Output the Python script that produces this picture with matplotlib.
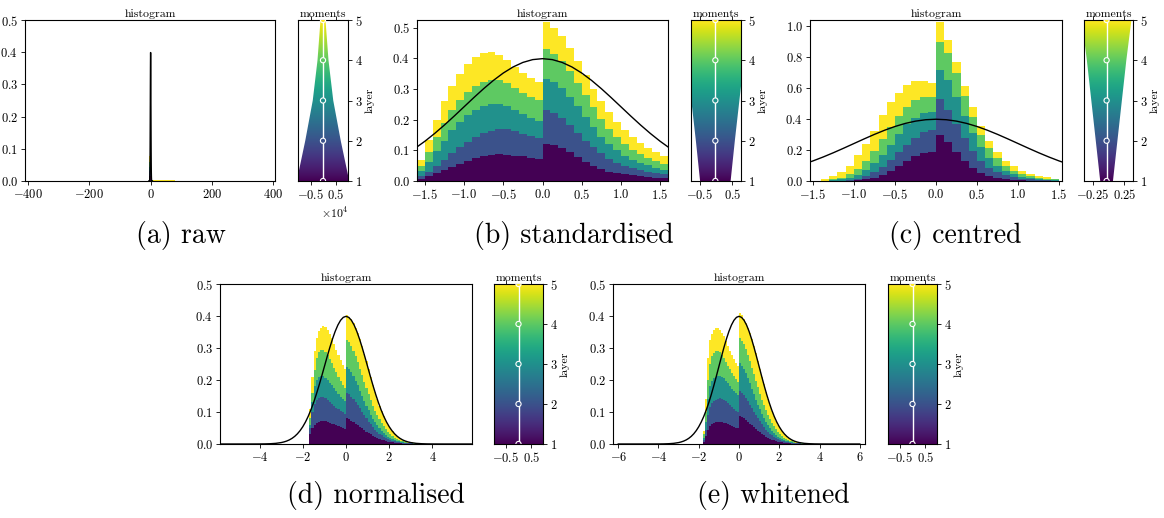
import numpy as np
import matplotlib
matplotlib.use("Agg")
import matplotlib.pyplot as plt
from matplotlib.patches import Polygon
from matplotlib.ticker import ScalarFormatter

plt.rcParams['font.family'] = 'serif'
plt.rcParams['font.serif'] = ['cmr10', 'DejaVu Serif']
plt.rcParams['mathtext.fontset'] = 'cm'
plt.rcParams['axes.formatter.use_mathtext'] = True
plt.rcParams['axes.unicode_minus'] = True

# ---------------- data ----------------
layers = [1, 2, 3, 4, 5]

# reference standard-normal curve (values read / tabulated)
curve_x = [-6.0, -5.0, -4.5, -4.0, -3.75, -3.5, -3.25, -3.0, -2.875, -2.75, -2.625, -2.5, -2.375, -2.25,
           -2.125, -2.0, -1.875, -1.75, -1.625, -1.5, -1.375, -1.25, -1.125, -1.0, -0.875, -0.75,
           -0.625, -0.5, -0.375, -0.25, -0.125, 0.0, 0.125, 0.25, 0.375, 0.5, 0.625, 0.75, 0.875,
           1.0, 1.125, 1.25, 1.375, 1.5, 1.625, 1.75, 1.875, 2.0, 2.125, 2.25, 2.375, 2.5, 2.625,
           2.75, 2.875, 3.0, 3.25, 3.5, 3.75, 4.0, 4.5, 5.0, 6.0]
curve_y = [0.0, 0.0000015, 0.000016, 0.00013, 0.00035, 0.00087, 0.00203, 0.00443, 0.0064, 0.00909,
           0.01272, 0.01753, 0.02377, 0.03174, 0.04173, 0.05399, 0.06879, 0.08628, 0.10654, 0.12952,
           0.15501, 0.18265, 0.21188, 0.24197, 0.27205, 0.30114, 0.32816, 0.35207, 0.37186, 0.38667,
           0.39584, 0.39894, 0.39584, 0.38667, 0.37186, 0.35207, 0.32816, 0.30114, 0.27205, 0.24197,
           0.21188, 0.18265, 0.15501, 0.12952, 0.10654, 0.08628, 0.06879, 0.05399, 0.04173, 0.03174,
           0.02377, 0.01753, 0.01272, 0.00909, 0.0064, 0.00443, 0.00203, 0.00087, 0.00035, 0.00013,
           0.000016, 0.0000015, 0.0]

# (a) raw -- cumulative top of each layer per bin
a_edges = [-6, 0, 8, 80, 250, 400]
a_layer1 = [0.015, 0.0005, 0.0, 0.0, 0.0]
a_layer2 = [0.03, 0.001, 0.0003, 0.0002, 0.0001]
a_layer3 = [0.045, 0.0015, 0.0006, 0.0004, 0.0003]
a_layer4 = [0.06, 0.002, 0.001, 0.0008, 0.0005]
a_layer5 = [0.078, 0.004, 0.004, 0.001, 0.0006]
a_mean = [0, 0, 0, 0, 0]
a_std = [10500, 7100, 4100, 2200, 1000]

# (b) standardised
b_edges = np.round(np.arange(-1.6, 1.6001, 0.1), 2)
b_layer1 = [0.007, 0.015, 0.025, 0.035, 0.045, 0.055, 0.065, 0.075, 0.082, 0.086, 0.087, 0.086, 0.083, 0.080, 0.076, 0.073,
            0.122, 0.117, 0.107, 0.093, 0.078, 0.062, 0.049, 0.038, 0.030, 0.025, 0.022, 0.018, 0.015, 0.013, 0.011, 0.009]
b_layer2 = [0.015, 0.03, 0.05, 0.07, 0.09, 0.11, 0.128, 0.143, 0.155, 0.164, 0.17, 0.168, 0.162, 0.154, 0.146, 0.14,
            0.23, 0.222, 0.205, 0.183, 0.158, 0.132, 0.11, 0.09, 0.073, 0.06, 0.05, 0.042, 0.035, 0.03, 0.026, 0.022]
b_layer3 = [0.032, 0.062, 0.098, 0.132, 0.165, 0.193, 0.215, 0.233, 0.245, 0.252, 0.252, 0.245, 0.233, 0.218, 0.205, 0.195,
            0.333, 0.323, 0.303, 0.275, 0.243, 0.208, 0.175, 0.145, 0.12, 0.1, 0.083, 0.069, 0.059, 0.051, 0.044, 0.037]
b_layer4 = [0.05, 0.095, 0.145, 0.19, 0.232, 0.265, 0.29, 0.31, 0.323, 0.33, 0.328, 0.318, 0.303, 0.288, 0.275, 0.265,
            0.43, 0.415, 0.39, 0.358, 0.32, 0.28, 0.24, 0.202, 0.17, 0.142, 0.12, 0.1, 0.087, 0.075, 0.065, 0.056]
b_layer5 = [0.07, 0.135, 0.2, 0.26, 0.31, 0.35, 0.38, 0.405, 0.418, 0.42, 0.41, 0.395, 0.372, 0.353, 0.337, 0.322,
            0.52, 0.5, 0.472, 0.433, 0.39, 0.345, 0.3, 0.26, 0.225, 0.193, 0.166, 0.143, 0.124, 0.108, 0.093, 0.082]
b_mean = [-0.02, -0.02, -0.02, -0.02, -0.02]
b_std = [0.47, 0.6, 0.74, 0.88, 1.02]

# (c) centred
c_edges = np.round(np.arange(-1.5, 1.5001, 0.1), 2)
c_layer1 = [0, 0, 0, 0.001, 0.002, 0.004, 0.01, 0.022, 0.04, 0.065, 0.095, 0.13, 0.163, 0.18, 0.185,
            0.295, 0.25, 0.19, 0.13, 0.082, 0.052, 0.032, 0.02, 0.011, 0.006, 0.004, 0.002, 0.001, 0.001, 0.0005]
c_layer2 = [0, 0, 0.001, 0.003, 0.007, 0.016, 0.032, 0.056, 0.09, 0.135, 0.185, 0.235, 0.28, 0.315, 0.33,
            0.53, 0.46, 0.37, 0.275, 0.195, 0.13, 0.087, 0.057, 0.036, 0.023, 0.015, 0.01, 0.006, 0.004, 0.002]
c_layer3 = [0, 0.001, 0.005, 0.012, 0.02, 0.037, 0.07, 0.115, 0.17, 0.235, 0.305, 0.365, 0.41, 0.44, 0.445,
            0.72, 0.65, 0.54, 0.42, 0.31, 0.22, 0.15, 0.1, 0.065, 0.042, 0.029, 0.02, 0.013, 0.009, 0.006]
c_layer4 = [0, 0.003, 0.01, 0.022, 0.045, 0.08, 0.13, 0.195, 0.27, 0.35, 0.42, 0.48, 0.525, 0.545, 0.545,
            0.9, 0.825, 0.695, 0.55, 0.415, 0.3, 0.21, 0.147, 0.1, 0.067, 0.046, 0.032, 0.022, 0.015, 0.01]
c_layer5 = [0.003, 0.012, 0.03, 0.06, 0.1, 0.165, 0.24, 0.325, 0.425, 0.51, 0.57, 0.62, 0.645, 0.648, 0.63,
            1.03, 0.91, 0.77, 0.615, 0.475, 0.355, 0.26, 0.187, 0.13, 0.094, 0.067, 0.048, 0.034, 0.024, 0.016]
c_mean = [-0.03, -0.03, -0.03, -0.03, -0.03]
c_std = [0.1, 0.17, 0.24, 0.31, 0.39]

# (d) normalised
d_edges = np.concatenate([np.round(np.arange(-1.7, 2.8001, 0.1), 2), [3.1, 3.4, 3.7, 4.0]])
d_layer1 = [0.03, 0.05, 0.06, 0.066, 0.07, 0.072, 0.072, 0.071, 0.069, 0.067, 0.064, 0.061, 0.058, 0.055, 0.052, 0.05, 0.048,
            0.08, 0.077, 0.073, 0.069, 0.064, 0.059, 0.054, 0.049, 0.044, 0.039, 0.034, 0.03, 0.026, 0.022, 0.019, 0.016,
            0.013, 0.011, 0.009, 0.007, 0.006, 0.005, 0.004, 0.003, 0.0025, 0.002, 0.0015, 0.001,
            0.0008, 0.0004, 0.0002, 0.0001]
d_layer2 = [0.05, 0.1, 0.125, 0.138, 0.145, 0.148, 0.147, 0.143, 0.138, 0.132, 0.126, 0.12, 0.114, 0.108, 0.103, 0.099, 0.095,
            0.16, 0.155, 0.148, 0.14, 0.131, 0.121, 0.111, 0.1, 0.09, 0.08, 0.07, 0.061, 0.053, 0.045, 0.038, 0.032,
            0.027, 0.022, 0.018, 0.015, 0.012, 0.01, 0.008, 0.006, 0.005, 0.004, 0.003, 0.0025,
            0.0018, 0.001, 0.0005, 0.0002]
d_layer3 = [0.06, 0.13, 0.18, 0.2, 0.21, 0.213, 0.212, 0.207, 0.2, 0.192, 0.183, 0.174, 0.165, 0.156, 0.148, 0.141, 0.135,
            0.24, 0.234, 0.224, 0.212, 0.198, 0.183, 0.167, 0.151, 0.135, 0.12, 0.105, 0.092, 0.079, 0.068, 0.058, 0.049,
            0.041, 0.034, 0.028, 0.023, 0.019, 0.015, 0.012, 0.01, 0.008, 0.006, 0.005, 0.004,
            0.0028, 0.0015, 0.0008, 0.0003]
d_layer4 = [0.08, 0.16, 0.23, 0.27, 0.287, 0.295, 0.295, 0.288, 0.278, 0.266, 0.252, 0.238, 0.224, 0.21, 0.197, 0.185, 0.175,
            0.325, 0.318, 0.306, 0.291, 0.274, 0.255, 0.235, 0.215, 0.195, 0.175, 0.155, 0.137, 0.12, 0.104, 0.09, 0.077,
            0.065, 0.055, 0.046, 0.038, 0.031, 0.025, 0.02, 0.016, 0.013, 0.01, 0.008, 0.006,
            0.004, 0.0022, 0.0011, 0.0005]
d_layer5 = [0.11, 0.21, 0.29, 0.33, 0.352, 0.362, 0.368, 0.366, 0.356, 0.345, 0.33, 0.312, 0.295, 0.278, 0.262, 0.248, 0.235,
            0.402, 0.398, 0.39, 0.378, 0.363, 0.346, 0.327, 0.305, 0.282, 0.258, 0.233, 0.209, 0.185, 0.162, 0.14, 0.12,
            0.102, 0.086, 0.072, 0.06, 0.049, 0.04, 0.032, 0.025, 0.02, 0.016, 0.012, 0.009,
            0.006, 0.003, 0.0015, 0.0007]
d_mean = [0, 0, 0, 0, 0]
d_std = [1.0, 1.0, 1.0, 1.0, 1.0]

# (e) whitened
e_edges = np.concatenate([np.round(np.arange(-1.8, 2.8001, 0.1), 2), [3.1, 3.4, 3.7, 4.0]])
e_layer1 = [0.006, 0.025, 0.045, 0.055, 0.062, 0.066, 0.068, 0.07, 0.07, 0.069, 0.067, 0.065, 0.062, 0.059, 0.056, 0.053, 0.051, 0.049,
            0.088, 0.085, 0.08, 0.075, 0.07, 0.064, 0.058, 0.052, 0.047, 0.041, 0.036, 0.031, 0.027, 0.023, 0.019, 0.016,
            0.013, 0.011, 0.009, 0.007, 0.006, 0.005, 0.004, 0.003, 0.0025, 0.002, 0.0015, 0.001,
            0.0008, 0.0004, 0.0002, 0.0001]
e_layer2 = [0.012, 0.045, 0.09, 0.115, 0.128, 0.135, 0.139, 0.142, 0.143, 0.141, 0.138, 0.133, 0.127, 0.121, 0.115, 0.109, 0.104, 0.1,
            0.166, 0.16, 0.152, 0.143, 0.133, 0.123, 0.112, 0.101, 0.091, 0.081, 0.071, 0.062, 0.053, 0.045, 0.038, 0.032,
            0.027, 0.022, 0.018, 0.015, 0.012, 0.01, 0.008, 0.006, 0.005, 0.004, 0.003, 0.0025,
            0.0018, 0.001, 0.0005, 0.0002]
e_layer3 = [0.02, 0.07, 0.14, 0.18, 0.197, 0.205, 0.21, 0.213, 0.213, 0.21, 0.205, 0.198, 0.19, 0.181, 0.172, 0.165, 0.158, 0.152,
            0.252, 0.245, 0.234, 0.221, 0.206, 0.19, 0.173, 0.156, 0.139, 0.123, 0.108, 0.094, 0.081, 0.069, 0.059, 0.05,
            0.042, 0.035, 0.029, 0.023, 0.019, 0.015, 0.012, 0.01, 0.008, 0.006, 0.005, 0.004,
            0.0028, 0.0015, 0.0008, 0.0003]
e_layer4 = [0.03, 0.1, 0.2, 0.25, 0.275, 0.285, 0.29, 0.29, 0.286, 0.278, 0.268, 0.257, 0.245, 0.233, 0.222, 0.212, 0.203, 0.195,
            0.33, 0.323, 0.311, 0.296, 0.278, 0.259, 0.239, 0.218, 0.197, 0.177, 0.157, 0.138, 0.121, 0.105, 0.09, 0.077,
            0.066, 0.055, 0.046, 0.038, 0.031, 0.025, 0.02, 0.016, 0.013, 0.01, 0.008, 0.006,
            0.004, 0.0022, 0.0011, 0.0005]
e_layer5 = [0.04, 0.14, 0.27, 0.325, 0.345, 0.356, 0.361, 0.362, 0.357, 0.348, 0.337, 0.323, 0.307, 0.292, 0.278, 0.265, 0.254, 0.245,
            0.41, 0.402, 0.392, 0.379, 0.364, 0.347, 0.328, 0.306, 0.283, 0.259, 0.234, 0.21, 0.186, 0.163, 0.141, 0.121,
            0.103, 0.087, 0.073, 0.06, 0.049, 0.04, 0.032, 0.025, 0.02, 0.016, 0.012, 0.009,
            0.006, 0.003, 0.0015, 0.0007]
e_mean = [0, 0, 0, 0, 0]
e_std = [1.0, 1.0, 1.0, 1.0, 1.0]

captions = ['(a) raw', '(b) standardised', '(c) centred', '(d) normalised', '(e) whitened']

# ---------------- drawing ----------------
W, H = 1164, 518
fig = plt.figure(figsize=(W / 100, H / 100), dpi=100)
cmap = plt.get_cmap('viridis')
layer_colors = cmap(np.linspace(0, 1, 5))
TICK_FS = 9
TITLE_FS = 8.5


def px_axes(x0, x1, y0, y1):
    return fig.add_axes([x0 / W, 1 - y1 / H, (x1 - x0) / W, (y1 - y0) / H])


def style(ax):
    ax.tick_params(labelsize=TICK_FS, length=3, width=0.6, pad=2)
    for s in ax.spines.values():
        s.set_linewidth(0.8)


def draw_hist(ax, edges, tops, xlim, ylim, xticks, yticks):
    edges = np.asarray(edges, dtype=float)
    for k in reversed(range(5)):
        v = np.asarray(tops[k], dtype=float)
        ax.fill_between(edges, 0, np.append(v, v[-1]), step='post',
                        color=layer_colors[k], lw=0)
    ax.plot(curve_x, curve_y, color='black', lw=1.0)
    ax.set_xlim(xlim)
    ax.set_ylim(ylim)
    ax.set_xticks(xticks)
    ax.set_yticks(yticks)
    ax.set_title('histogram', fontsize=TITLE_FS, pad=2)
    style(ax)


def draw_moments(ax, mean, std, xlim, xticks, sci=False):
    mean = np.asarray(mean, dtype=float)
    std = np.asarray(std, dtype=float)
    lay = np.asarray(layers, dtype=float)
    grad = np.linspace(0, 1, 256).reshape(-1, 1)
    im = ax.imshow(grad, extent=[xlim[0], xlim[1], 1, 5], origin='lower',
                   aspect='auto', cmap='viridis', interpolation='bilinear')
    verts = list(zip(mean - std, lay)) + list(zip((mean + std)[::-1], lay[::-1]))
    poly = Polygon(verts, closed=True, transform=ax.transData, fc='none', ec='none')
    ax.add_patch(poly)
    im.set_clip_path(poly)
    ax.plot(mean, lay, color='white', lw=1.0, zorder=3)
    ax.scatter(mean, lay, s=14, c=layer_colors, edgecolors='white', linewidths=0.8, zorder=4)
    ax.set_xlim(xlim)
    ax.set_ylim(1, 5)
    ax.set_xticks(xticks)
    ax.set_yticks([1, 2, 3, 4, 5])
    ax.yaxis.tick_right()
    ax.yaxis.set_label_position('right')
    ax.set_ylabel('layer', fontsize=TITLE_FS, labelpad=2)
    ax.tick_params(axis='x', top=True)
    ax.set_title('moments', fontsize=TITLE_FS, pad=2)
    if sci:
        fmt = ScalarFormatter(useMathText=True)
        fmt.set_powerlimits((4, 4))
        ax.xaxis.set_major_formatter(fmt)
        ax.xaxis.get_offset_text().set_fontsize(TITLE_FS)
    style(ax)


# top row
ax = px_axes(25, 275, 20, 181)
draw_hist(ax, a_edges, [a_layer1, a_layer2, a_layer3, a_layer4, a_layer5],
          (-410, 406), (0, 0.5), [-400, -200, 0, 200, 400], [0, 0.1, 0.2, 0.3, 0.4, 0.5])
ax = px_axes(298, 348, 20, 181)
draw_moments(ax, a_mean, a_std, (-10000, 10000), [-5000, 5000], sci=True)

ax = px_axes(417, 668, 20, 181)
draw_hist(ax, b_edges, [b_layer1, b_layer2, b_layer3, b_layer4, b_layer5],
          (-1.6, 1.6), (0, 0.525), [-1.5, -1.0, -0.5, 0.0, 0.5, 1.0, 1.5], [0, 0.1, 0.2, 0.3, 0.4, 0.5])
ax = px_axes(691, 741, 20, 181)
draw_moments(ax, b_mean, b_std, (-0.77, 0.77), [-0.5, 0.5])

ax = px_axes(810, 1062, 20, 181)
draw_hist(ax, c_edges, [c_layer1, c_layer2, c_layer3, c_layer4, c_layer5],
          (-1.535, 1.535), (0, 1.04), [-1.5, -1.0, -0.5, 0.0, 0.5, 1.0, 1.5], [0, 0.2, 0.4, 0.6, 0.8, 1.0])
ax = px_axes(1084, 1133, 20, 181)
draw_moments(ax, c_mean, c_std, (-0.385, 0.385), [-0.25, 0.25])

# bottom row
ax = px_axes(220, 472, 284, 444)
draw_hist(ax, d_edges, [d_layer1, d_layer2, d_layer3, d_layer4, d_layer5],
          (-5.83, 5.83), (0, 0.5), [-4, -2, 0, 2, 4], [0, 0.1, 0.2, 0.3, 0.4, 0.5])
ax = px_axes(494, 543, 284, 444)
draw_moments(ax, d_mean, d_std, (-0.96, 0.96), [-0.5, 0.5])

ax = px_axes(613, 865, 284, 444)
draw_hist(ax, e_edges, [e_layer1, e_layer2, e_layer3, e_layer4, e_layer5],
          (-6.26, 6.26), (0, 0.5), [-6, -4, -2, 0, 2, 4, 6], [0, 0.1, 0.2, 0.3, 0.4, 0.5])
ax = px_axes(888, 937, 284, 444)
draw_moments(ax, e_mean, e_std, (-0.96, 0.96), [-0.5, 0.5])

# captions
cap_pos = [(181, 243), (574, 243), (955, 243), (376, 503), (773, 503)]
for text, (cx, cy) in zip(captions, cap_pos):
    fig.text(cx / W, 1 - cy / H, text, fontsize=20, ha='center', va='baseline')

fig.savefig('out.png', dpi=100)
